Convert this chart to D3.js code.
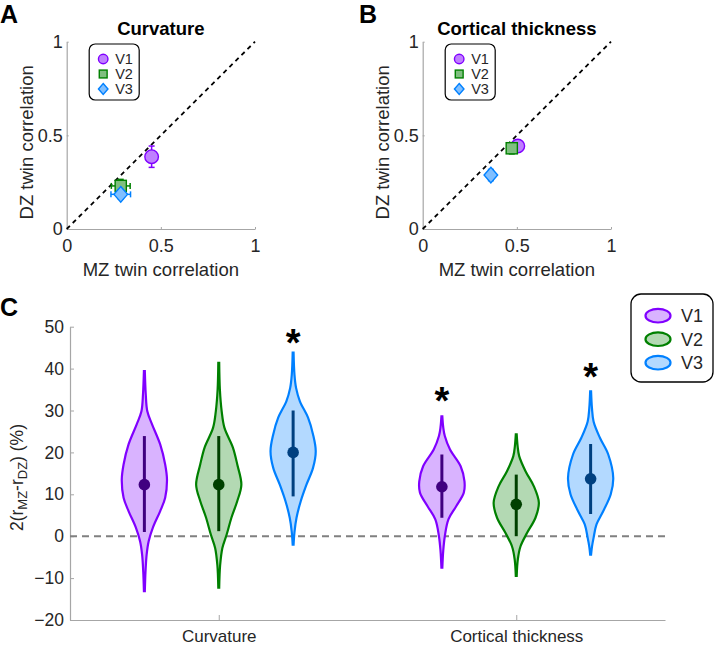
<!DOCTYPE html>
<html>
<head>
<meta charset="utf-8">
<script src="https://cdn.jsdelivr.net/npm/d3@7"></script>
<style>
  body { margin: 0; background: #fff; }
  svg { display: block; font-family: "Liberation Sans", Arial, sans-serif; }
</style>
</head>
<body>
<svg id="fig" width="714" height="645"></svg>
<script>
// ---- data ----
const areas = ["V1", "V2", "V3"];
const categories = ["Curvature", "Cortical thickness"];

// panel A (curvature) : MZ / DZ twin correlations with errors
const curvMZ = [0.451, 0.287, 0.287];
const curvDZ = [0.386, 0.230, 0.185];
const curvMZerr = [0.010, 0.050, 0.052];
const curvDZerr = [0.057, 0.035, 0.025];
// panel B (cortical thickness)
const thickMZ = [0.505, 0.473, 0.362];
const thickDZ = [0.443, 0.431, 0.288];
const thickMZerr = [0.012, 0.015, 0.012];
const thickDZerr = [0.018, 0.030, 0.030];

// panel C : violin profiles [value %, relative density]
const curvV1 = [[39.4,0.02],[34,0.06],[29.8,0.13],[26.7,0.34],[21.9,0.7],[17.1,0.92],[13.5,1.0],[9.2,0.92],[6,0.7],[2.1,0.38],[-1.2,0.19],[-4.4,0.1],[-8.5,0.05],[-13.1,0.02]];
const curvV2 = [[41.4,0.02],[35,0.05],[29.8,0.13],[25.9,0.25],[21.1,0.63],[17.1,0.82],[12.3,1.0],[8.4,0.82],[4.4,0.56],[0.4,0.35],[-2.8,0.16],[-7,0.06],[-12.3,0.02]];
const curvV3 = [[43.8,0.02],[38.5,0.06],[35.4,0.13],[32.2,0.3],[28.3,0.66],[24.3,0.88],[20.3,1.0],[16.3,0.88],[12.3,0.59],[8.4,0.34],[4.4,0.15],[1,0.06],[-2,0.02]];
const thickV1 = [[28.6,0.02],[26,0.06],[23.9,0.13],[20.7,0.36],[16.7,0.83],[13.1,1.0],[10.4,0.97],[7.2,0.64],[4,0.29],[0,0.13],[-3.5,0.06],[-7.5,0.02]];
const thickV2 = [[24.3,0.02],[21.5,0.06],[19.1,0.13],[15.5,0.41],[11.9,0.78],[8,1.0],[4.4,0.85],[0.8,0.48],[-2.4,0.19],[-5.5,0.07],[-9.5,0.02]];
const thickV3 = [[34.6,0.02],[30.5,0.06],[27.4,0.13],[23.5,0.41],[19.5,0.78],[13.9,1.0],[10,0.89],[6,0.56],[2.8,0.26],[-0.4,0.13],[-2.5,0.06],[-4.4,0.02]];

const curvMedian = [12.3, 12.3, 20.0];
const curvLow = [1.0, 1.2, 9.5];
const curvHigh = [23.9, 23.9, 30.0];
const thickMedian = [11.8, 7.6, 13.7];
const thickLow = [4.4, 0.0, 5.3];
const thickHigh = [19.5, 14.7, 22.0];

// significance stars (value where the star sits, null = none)
const curvStar = [null, null, 48.1];
const thickStar = [34.1, null, 39.8];

const corrTicks = [0, 0.5, 1];
const pctTicks = [-20, -10, 0, 10, 20, 30, 40, 50];

// ---- styles ----
const edge = ["#8000ff", "#008000", "#0080ff"];
const markerFill = ["#bf80ff", "#80bf80", "#80bfff"];
const violinFill = ["#d9b3ff", "#b3d9b3", "#b3d9ff"];
const dark = ["#400080", "#004000", "#004080"];
const axisGray = "#a6a6a6";
const textCol = "#262626";

const svg = d3.select("#fig");

function panelLetter(txt, x, y) {
  svg.append("text").attr("x", x).attr("y", y)
    .attr("font-size", 25).attr("font-weight", "bold").attr("fill", "#000").text(txt);
}

function styleAxis(g) {
  g.select(".domain").attr("stroke", axisGray).attr("stroke-width", 1.2);
  g.selectAll(".tick line").attr("stroke", axisGray);
  g.selectAll(".tick text").attr("fill", textCol).attr("font-family", null);
}

function marker(g, shape, cx, cy, i, big) {
  const s = big ? 1 : 0.7;
  let m;
  if (shape === 0) {
    m = g.append("circle").attr("cx", cx).attr("cy", cy).attr("r", 6.8 * s);
  } else if (shape === 1) {
    const h = 5.6 * s;
    m = g.append("rect").attr("x", cx - h).attr("y", cy - h).attr("width", 2 * h).attr("height", 2 * h);
  } else {
    const w = 6.8 * s, hh = 7.8 * s;
    m = g.append("path").attr("d", `M${cx},${cy - hh}L${cx + w},${cy}L${cx},${cy + hh}L${cx - w},${cy}Z`);
  }
  m.attr("fill", markerFill[i]).attr("stroke", edge[i]).attr("stroke-width", 1.4);
}

function scatterPanel(x0, title, mz, dz, mzErr, dzErr) {
  const x = d3.scaleLinear().domain([0, 1]).range([x0, x0 + 188.3]);
  const y = d3.scaleLinear().domain([0, 1]).range([229, 41.7]);
  const g = svg.append("g");

  g.append("g").attr("transform", "translate(0,229)")
    .call(d3.axisBottom(x).tickValues(corrTicks).tickFormat(d => String(d)).tickSize(-2).tickSizeOuter(0).tickPadding(10))
    .attr("font-size", 18).call(styleAxis);
  g.append("g").attr("transform", `translate(${x0},0)`)
    .call(d3.axisLeft(y).tickValues(corrTicks).tickFormat(d => String(d)).tickSize(-2).tickSizeOuter(0).tickPadding(4))
    .attr("font-size", 18).call(styleAxis);

  // identity line
  g.append("line").attr("x1", x(0)).attr("y1", y(0)).attr("x2", x(1)).attr("y2", y(1))
    .attr("stroke", "#000").attr("stroke-width", 1.8).attr("stroke-dasharray", "4.5,4");

  areas.forEach((a, i) => {
    const gg = g.append("g");
    const cx = x(mz[i]), cy = y(dz[i]);
    const bar = (x1, y1, x2, y2) => gg.append("line").attr("x1", x1).attr("y1", y1).attr("x2", x2).attr("y2", y2)
      .attr("stroke", edge[i]).attr("stroke-width", 1.5);
    // vertical
    bar(cx, y(dz[i] - dzErr[i]), cx, y(dz[i] + dzErr[i]));
    bar(cx - 3, y(dz[i] - dzErr[i]), cx + 3, y(dz[i] - dzErr[i]));
    bar(cx - 3, y(dz[i] + dzErr[i]), cx + 3, y(dz[i] + dzErr[i]));
    // horizontal
    bar(x(mz[i] - mzErr[i]), cy, x(mz[i] + mzErr[i]), cy);
    bar(x(mz[i] - mzErr[i]), cy - 3, x(mz[i] - mzErr[i]), cy + 3);
    bar(x(mz[i] + mzErr[i]), cy - 3, x(mz[i] + mzErr[i]), cy + 3);
    marker(gg, i, cx, cy, i, true);
  });

  // legend
  const lx = x0 + 22.5;
  g.append("rect").attr("x", lx).attr("y", 44).attr("width", 50).attr("height", 56).attr("rx", 6)
    .attr("fill", "#fff").attr("stroke", "#000").attr("stroke-width", 1.2);
  areas.forEach((a, i) => {
    const ly = 59 + i * 15;
    marker(g, i, lx + 14, ly, i, false);
    g.append("text").attr("x", lx + 26).attr("y", ly + 5).attr("font-size", 14.5).attr("fill", textCol).text(a);
  });

  g.append("text").attr("x", x(0.5)).attr("y", 34.5).attr("text-anchor", "middle")
    .attr("font-size", 18.5).attr("font-weight", "bold").attr("fill", "#000").text(title);
  g.append("text").attr("x", x(0.5)).attr("y", 276).attr("text-anchor", "middle")
    .attr("font-size", 18.5).attr("fill", textCol).text("MZ twin correlation");
  g.append("text").attr("transform", `translate(${x0 - 34},${y(0.5) + 7}) rotate(-90)`).attr("text-anchor", "middle")
    .attr("font-size", 18.5).attr("fill", textCol).text("DZ twin correlation");
}

panelLetter("A", 0, 23);
panelLetter("B", 359, 23);
scatterPanel(66.7, "Curvature", curvMZ, curvDZ, curvMZerr, curvDZerr);
scatterPanel(422.7, "Cortical thickness", thickMZ, thickDZ, thickMZerr, thickDZerr);

// ---- panel C ----
panelLetter("C", 0, 316);
const xC = d3.scaleLinear().domain([0.5, 2.5]).range([70, 665]);
const yC = d3.scaleLinear().domain([-20, 50]).range([620, 326.7]);
const gC = svg.append("g");

gC.append("g").attr("transform", "translate(0,620)")
  .call(d3.axisBottom(xC).tickValues([1, 2]).tickFormat((d, i) => categories[i]).tickSize(-5).tickSizeOuter(0).tickPadding(10))
  .attr("font-size", 17).call(styleAxis);
gC.append("g").attr("transform", "translate(70,0)")
  .call(d3.axisLeft(yC).tickValues(pctTicks).tickSize(-4).tickSizeOuter(0).tickPadding(6))
  .attr("font-size", 17.5).call(styleAxis);

gC.append("line").attr("x1", xC(0.5)).attr("x2", xC(2.5)).attr("y1", yC(0)).attr("y2", yC(0))
  .attr("stroke", "#808080").attr("stroke-width", 2).attr("stroke-dasharray", "7,5");

const offsets = [-0.25, 0, 0.25];
const halfW = 0.076;
const groups = [
  { profiles: [curvV1, curvV2, curvV3], med: curvMedian, lo: curvLow, hi: curvHigh, star: curvStar },
  { profiles: [thickV1, thickV2, thickV3], med: thickMedian, lo: thickLow, hi: thickHigh, star: thickStar }
];

groups.forEach((grp, c) => {
  grp.profiles.forEach((prof, i) => {
    const pos = c + 1 + offsets[i];
    const area = d3.area()
      .y(d => yC(d[0]))
      .x0(d => xC(pos - d[1] * halfW))
      .x1(d => xC(pos + d[1] * halfW))
      .curve(d3.curveCatmullRom.alpha(0.5));
    gC.append("path").attr("d", area(prof))
      .attr("fill", violinFill[i]).attr("stroke", edge[i]).attr("stroke-width", 2.2);
    gC.append("line").attr("x1", xC(pos)).attr("x2", xC(pos))
      .attr("y1", yC(grp.lo[i])).attr("y2", yC(grp.hi[i]))
      .attr("stroke", dark[i]).attr("stroke-width", 3);
    gC.append("circle").attr("cx", xC(pos)).attr("cy", yC(grp.med[i])).attr("r", 5.8).attr("fill", dark[i]);
    if (grp.star[i] !== null) {
      gC.append("text").attr("x", xC(pos)).attr("y", yC(grp.star[i]) + 21)
        .attr("text-anchor", "middle").attr("font-size", 38).attr("font-weight", "bold")
        .attr("fill", "#000").text("*");
    }
  });
});

// y label with subscripts
const yl = gC.append("text").attr("transform", `translate(23,${yC(14)}) rotate(-90)`)
  .attr("text-anchor", "middle").attr("font-size", 17.5).attr("fill", textCol);
yl.append("tspan").text("2(r");
yl.append("tspan").attr("font-size", 13).attr("dy", 4).text("MZ");
yl.append("tspan").attr("dy", -4).text("-r");
yl.append("tspan").attr("font-size", 13).attr("dy", 4).text("DZ");
yl.append("tspan").attr("dy", -4).text(") (%)");

// legend C
gC.append("rect").attr("x", 631).attr("y", 294).attr("width", 82).attr("height", 88).attr("rx", 10)
  .attr("fill", "#fff").attr("stroke", "#000").attr("stroke-width", 1.3);
areas.forEach((a, i) => {
  const ly = 315.7 + i * 23.5;
  gC.append("ellipse").attr("cx", 658).attr("cy", ly).attr("rx", 12.5).attr("ry", 6.8)
    .attr("fill", violinFill[i]).attr("stroke", edge[i]).attr("stroke-width", 2.2);
  gC.append("text").attr("x", 681).attr("y", ly + 6.5).attr("font-size", 18).attr("fill", textCol).text(a);
});
</script>
</body>
</html>
